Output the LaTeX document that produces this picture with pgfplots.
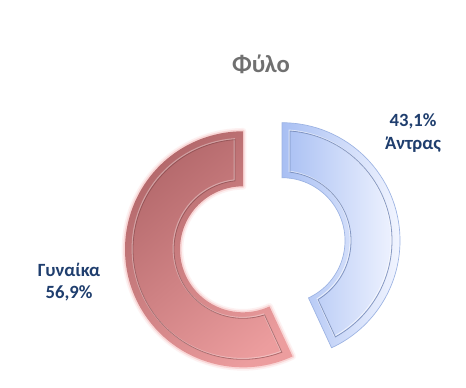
\documentclass[border=0pt]{standalone}
\usepackage{pgfplots}
\pgfplotsset{compat=1.18}
\usepackage{fontspec}
\setmainfont{Carlito}
\definecolor{lbl}{HTML}{1F3E6E}
\definecolor{ttl}{HTML}{707070}
\definecolor{fdark}{HTML}{B2676A}
\definecolor{flight}{HTML}{EC9D9E}
\definecolor{fglow}{HTML}{F4A6A6}
\definecolor{fline}{HTML}{7A3F42}
\definecolor{mdark}{HTML}{A8BFF3}
\definecolor{mlight}{HTML}{F2F5FF}
\definecolor{medge}{HTML}{9CB3E3}
\definecolor{mline}{HTML}{6F84B4}
% data (percent)
\def\pMale{43.1}
\def\pFemale{56.9}
% geometry (1 px = 0.75 pt)
\pgfmathsetmacro\aM{3.6*\pMale}
\pgfmathsetmacro\aF{3.6*\pFemale}
\pgfmathsetmacro\mS{90}
\pgfmathsetmacro\mE{90-\aM}
\pgfmathsetmacro\fS{90-\aM}
\pgfmathsetmacro\fE{90-\aM-\aF}
\def\Ro{88.5}
\def\Ri{47.25}
\def\Rob{82.5}
\def\Rib{51.75}
\pgfmathsetmacro\oO{asin(6/\Rob)}
\pgfmathsetmacro\oI{asin(6/\Rib)}
\pgfmathsetmacro\mbSo{\mS-\oO}\pgfmathsetmacro\mbEo{\mE+\oO}
\pgfmathsetmacro\mbSi{\mS-\oI}\pgfmathsetmacro\mbEi{\mE+\oI}
\pgfmathsetmacro\fbSo{\fS-\oO}\pgfmathsetmacro\fbEo{\fE+\oO}
\pgfmathsetmacro\fbSi{\fS-\oI}\pgfmathsetmacro\fbEi{\fE+\oI}
\newcommand\seg[6]{({#3}:#1pt) arc[start angle=#3, end angle=#4, radius=#1pt] -- ({#6}:#2pt) arc[start angle=#6, end angle=#5, radius=#2pt] -- cycle}
\begin{document}
\begin{tikzpicture}
\begin{axis}[scale only axis, width=349.5pt, height=283.5pt,
  xmin=0, xmax=466, ymin=0, ymax=378, hide axis, clip=false]
\path[fill=white] (axis cs:0,0) rectangle (axis cs:466,378);
% Female segment
\begin{scope}[shift={(axis cs:243,128.7)}]
  \draw[fglow, opacity=.15, line width=5pt, line join=round] \seg{\Ro}{\Ri}{\fS}{\fE}{\fS}{\fE};
  \draw[fglow, opacity=.35, line width=2.5pt, line join=round] \seg{\Ro}{\Ri}{\fS}{\fE}{\fS}{\fE};
  \shade[top color=fdark, bottom color=flight, shading angle=40] \seg{\Ro}{\Ri}{\fS}{\fE}{\fS}{\fE};
  \draw[white, opacity=.35, line width=.9pt, xshift=-.6pt, yshift=.6pt] \seg{\Rob}{\Rib}{\fbSo}{\fbEo}{\fbSi}{\fbEi};
  \draw[fline, opacity=.55, line width=.6pt] \seg{\Rob}{\Rib}{\fbSo}{\fbEo}{\fbSi}{\fbEi};
\end{scope}
% Male segment
\begin{scope}[shift={(axis cs:282,137.3)}]
  \shade[left color=mdark, right color=mlight] \seg{\Ro}{\Ri}{\mS}{\mE}{\mS}{\mE};
  \draw[medge, line width=.5pt] \seg{\Ro}{\Ri}{\mS}{\mE}{\mS}{\mE};
  \draw[white, opacity=.6, line width=.9pt, xshift=-.6pt, yshift=.6pt] \seg{\Rob}{\Rib}{\mbSo}{\mbEo}{\mbSi}{\mbEi};
  \draw[mline, opacity=.8, line width=.6pt] \seg{\Rob}{\Rib}{\mbSo}{\mbEo}{\mbSi}{\mbEi};
\end{scope}
% Texts
\node[ttl, font=\fontsize{18.5}{20}\selectfont\bfseries] at (axis cs:261,314) {Φύλο};
\node[lbl, font=\fontsize{14}{17}\selectfont\bfseries, align=center] at (axis cs:413,245) {43,1\%\\Άντρας};
\node[lbl, font=\fontsize{14}{17}\selectfont\bfseries, align=center] at (axis cs:69,96) {Γυναίκα\\56,9\%};
\end{axis}
\end{tikzpicture}
\end{document}
